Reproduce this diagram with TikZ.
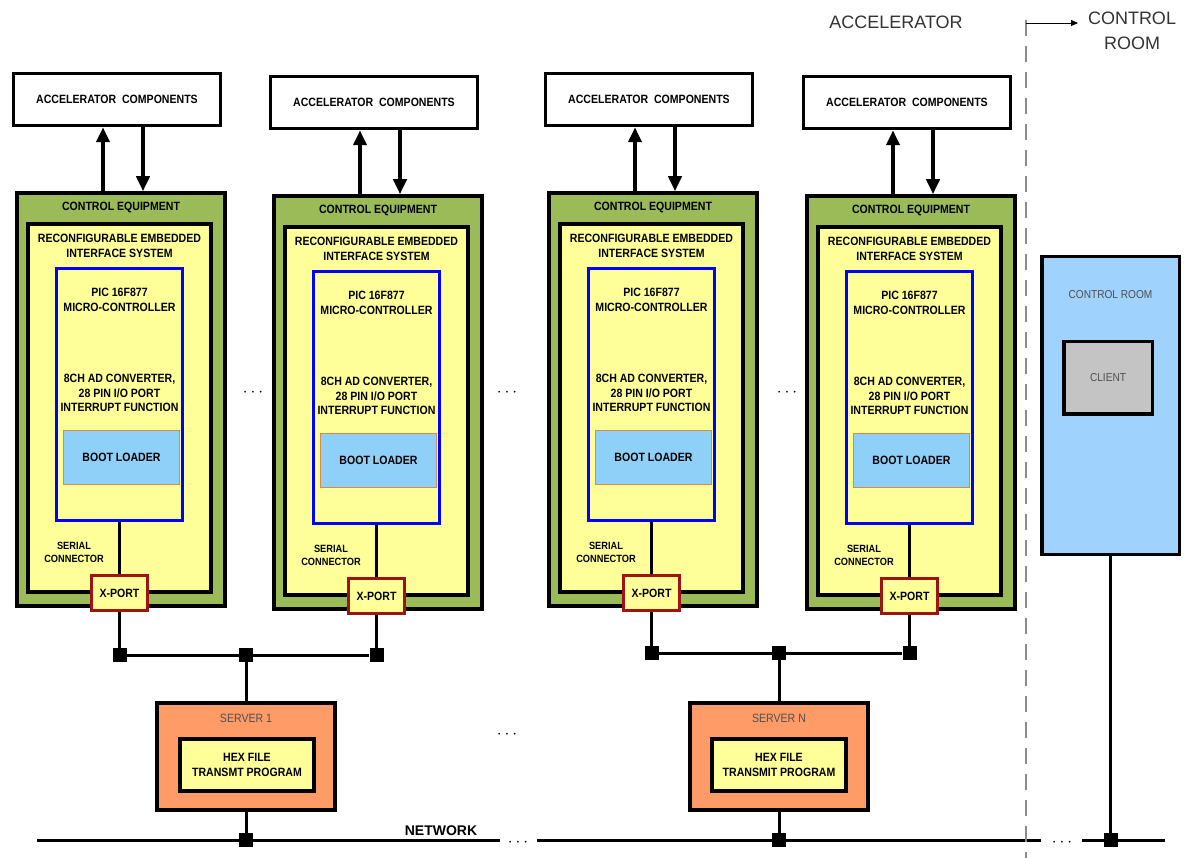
\documentclass[tikz,border=0pt]{standalone}
\usepackage{fontspec}
\setmainfont{Liberation Sans}
\newfontfamily\condfont{Liberation Sans}[FakeStretch=0.88]
\usetikzlibrary{arrows.meta,positioning}
\definecolor{ceqgreen}{HTML}{9BBB59}
\definecolor{reisyellow}{HTML}{FFFF99}
\definecolor{bootblue}{HTML}{8ED0F8}
\definecolor{bootedge}{HTML}{D9894A}
\definecolor{xportred}{HTML}{9E1414}
\definecolor{srvorange}{HTML}{FF9B66}
\definecolor{roomblue}{HTML}{9FD2FC}
\definecolor{clientgray}{HTML}{C4C4C4}
\definecolor{labelgray}{HTML}{505050}
\definecolor{dashgray}{HTML}{8C8C8C}

\begin{document}
\begin{tikzpicture}[x=1pt, y=-1pt,
  txt/.style={font=\condfont\bfseries\fontsize{12}{14.5}\selectfont, align=center, inner sep=0pt},
  thinlbl/.style={font=\condfont\fontsize{12}{14}\selectfont, text=labelgray, inner sep=0pt},
  accbox/.style={draw, line width=3.5pt, fill=white, minimum width=207pt, minimum height=52pt, txt},
  ceqbox/.style={draw, line width=3.5pt, fill=ceqgreen, minimum width=208pt, minimum height=413pt},
  reisbox/.style={draw, line width=3.5pt, fill=reisyellow, minimum width=183pt, minimum height=368pt},
  mcbox/.style={draw=blue, line width=3pt, fill=reisyellow, minimum width=126pt, minimum height=252pt},
  bootbox/.style={draw=bootedge, line width=1pt, fill=bootblue, minimum width=116pt, minimum height=54pt, txt},
  xportbox/.style={draw=xportred, line width=3pt, fill=reisyellow, minimum width=56pt, minimum height=35pt, txt},
  srvbox/.style={draw, line width=3.5pt, fill=srvorange, minimum width=178pt, minimum height=107pt},
  hexbox/.style={draw, line width=3.5pt, fill=reisyellow, minimum width=134pt, minimum height=52pt, txt},
  junc/.style={fill, minimum size=14pt, inner sep=0pt},
  wire/.style={line width=3pt},
  fatarrow/.style={line width=3.8pt, -{Triangle[length=15pt,width=13pt]}},
  dotsnode/.style={font=\fontsize{16}{18}\selectfont\bfseries, inner sep=0pt}]
\useasboundingbox (0,0) rectangle (1184,858);

% the four control equipment columns
\foreach \i/\dx/\dy in {1/0/0, 2/257/3, 3/532/0, 4/790/3} {
  \begin{scope}[shift={(\dx,\dy)}]
    \node[accbox] (acc\i) at (117,99.5) {ACCELERATOR~~COMPONENTS};
    \node[ceqbox] (ce\i) at (121,399.5) {};
    \node[reisbox] (reis\i) at (119.5,408) {};
    \node[mcbox] (mc\i) at (119.5,394.5) {};
    \node[bootbox] (boot\i) at (121.5,457.5) {BOOT LOADER};
    \node[xportbox] (xp\i) at (119.5,593) {X-PORT};
    \node[txt] (cet\i) at (121,207) {CONTROL EQUIPMENT};
    \node[txt] (reist\i) at (119.5,246) {RECONFIGURABLE EMBEDDED\\INTERFACE SYSTEM};
    \node[txt] (pic\i) at (119.5,300) {PIC 16F877\\MICRO-CONTROLLER};
    \node[txt] (feat\i) at (119.5,393) {8CH AD CONVERTER,\\28 PIN I/O PORT\\INTERRUPT FUNCTION};
    \node[txt, font=\condfont\bfseries\fontsize{10.5}{13.5}\selectfont] (ser\i) at (74,552.5) {SERIAL\\CONNECTOR};
  \end{scope}
  \draw[fatarrow] ([xshift=-18pt]ce\i.north) -- ([xshift=-18pt]ce\i.north |- acc\i.south);
  \draw[fatarrow] ([xshift=22pt]ce\i.north |- acc\i.south) -- ([xshift=22pt]ce\i.north);
  \draw[wire] (mc\i.south) -- (xp\i.north);
}

% dots between the columns
\node[dotsnode] (dc1) at (253,393) {$\cdots$};
\node[dotsnode] (dc2) at (507,393) {$\cdots$};
\node[dotsnode] (dc3) at (787,393) {$\cdots$};

% buses to the servers
\coordinate (busl) at (0,655);
\coordinate (busr) at (0,653);
\node[junc] (jx1) at (xp1.south |- busl) {};
\node[junc] (jx2) at (xp2.south |- busl) {};
\node[junc] (jx3) at (xp3.south |- busr) {};
\node[junc] (jx4) at (xp4.south |- busr) {};
\node[junc] (jm1) at (246,655) {};
\node[junc] (jm2) at (779,653) {};
\foreach \i in {1,2,3,4} \draw[wire] (xp\i.south) -- (jx\i);
\draw[wire] (jx1) -- (jm1) -- (jx2);
\draw[wire] (jx3) -- (jm2) -- (jx4);

% servers
\node[srvbox] (srv1) at (246,756.5) {};
\node[thinlbl] (srvt1) at (246,718) {SERVER 1};
\node[hexbox] (hex1) at (247,765) {HEX FILE\\TRANSMT PROGRAM};
\node[srvbox] (srv2) at (779,756.5) {};
\node[thinlbl] (srvt2) at (779,718) {SERVER N};
\node[hexbox] (hex2) at (779,765) {HEX FILE\\TRANSMIT PROGRAM};
\node[dotsnode] (ds) at (507,735) {$\cdots$};
\draw[wire] (jm1) -- (srv1.north);
\draw[wire] (jm2) -- (srv2.north);

% control room
\node[draw, line width=3.5pt, fill=roomblue, minimum width=137.5pt, minimum height=297.5pt] (room) at (1110.5,405.5) {};
\node[thinlbl, font=\condfont\fontsize{11.5}{14}\selectfont] (roomt) at (1110.5,295) {CONTROL ROOM};
\node[draw, line width=3.5pt, fill=clientgray, minimum width=88.5pt, minimum height=72.5pt, thinlbl, font=\condfont\fontsize{11.5}{14}\selectfont] (client) at (1108,378) {CLIENT};

% network
\coordinate (nw0) at (37,840);
\coordinate (nw1) at (500,840);
\coordinate (nw2) at (537,840);
\coordinate (nw3) at (1041,840);
\coordinate (nw4) at (1082,840);
\coordinate (nw5) at (1165,840);
\draw[wire] (nw0) -- (nw1);
\draw[wire] (nw2) -- (nw3);
\draw[wire] (nw4) -- (nw5);
\node[dotsnode] (dn1) at (518,843) {$\cdots$};
\node[dotsnode] (dn2) at (1062,843) {$\cdots$};
\node[font=\bfseries\fontsize{14}{16}\selectfont, inner sep=0pt] (net) at (441,831) {NETWORK};
\node[junc] (jn1) at (srv1.south |- nw0) {};
\node[junc] (jn2) at (srv2.south |- nw0) {};
\node[junc] (jn3) at (room.south |- nw0) {};
\draw[wire] (srv1.south) -- (jn1);
\draw[wire] (srv2.south) -- (jn2);
\draw[wire] (room.south) -- (jn3);

% accelerator / control room divide
\coordinate (dv0) at (1026,20);
\coordinate (dv1) at (1026,858);
\coordinate (dvarr) at (1078,23);
\draw[dashgray, line width=1.5pt, dash pattern=on 16pt off 10pt] (dv0) -- (dv1);
\draw[line width=0.8pt, -{Triangle[length=7pt,width=6pt]}] (dv0 |- dvarr) -- (dvarr);
\node[font=\fontsize{18}{20}\selectfont, text=black!80, inner sep=0pt] (acct) at (896,22) {ACCELERATOR};
\node[font=\fontsize{18}{25}\selectfont, text=black!80, align=center, inner sep=0pt] (crt) at (1132,31) {CONTROL\\ROOM};
\end{tikzpicture}
\end{document}
